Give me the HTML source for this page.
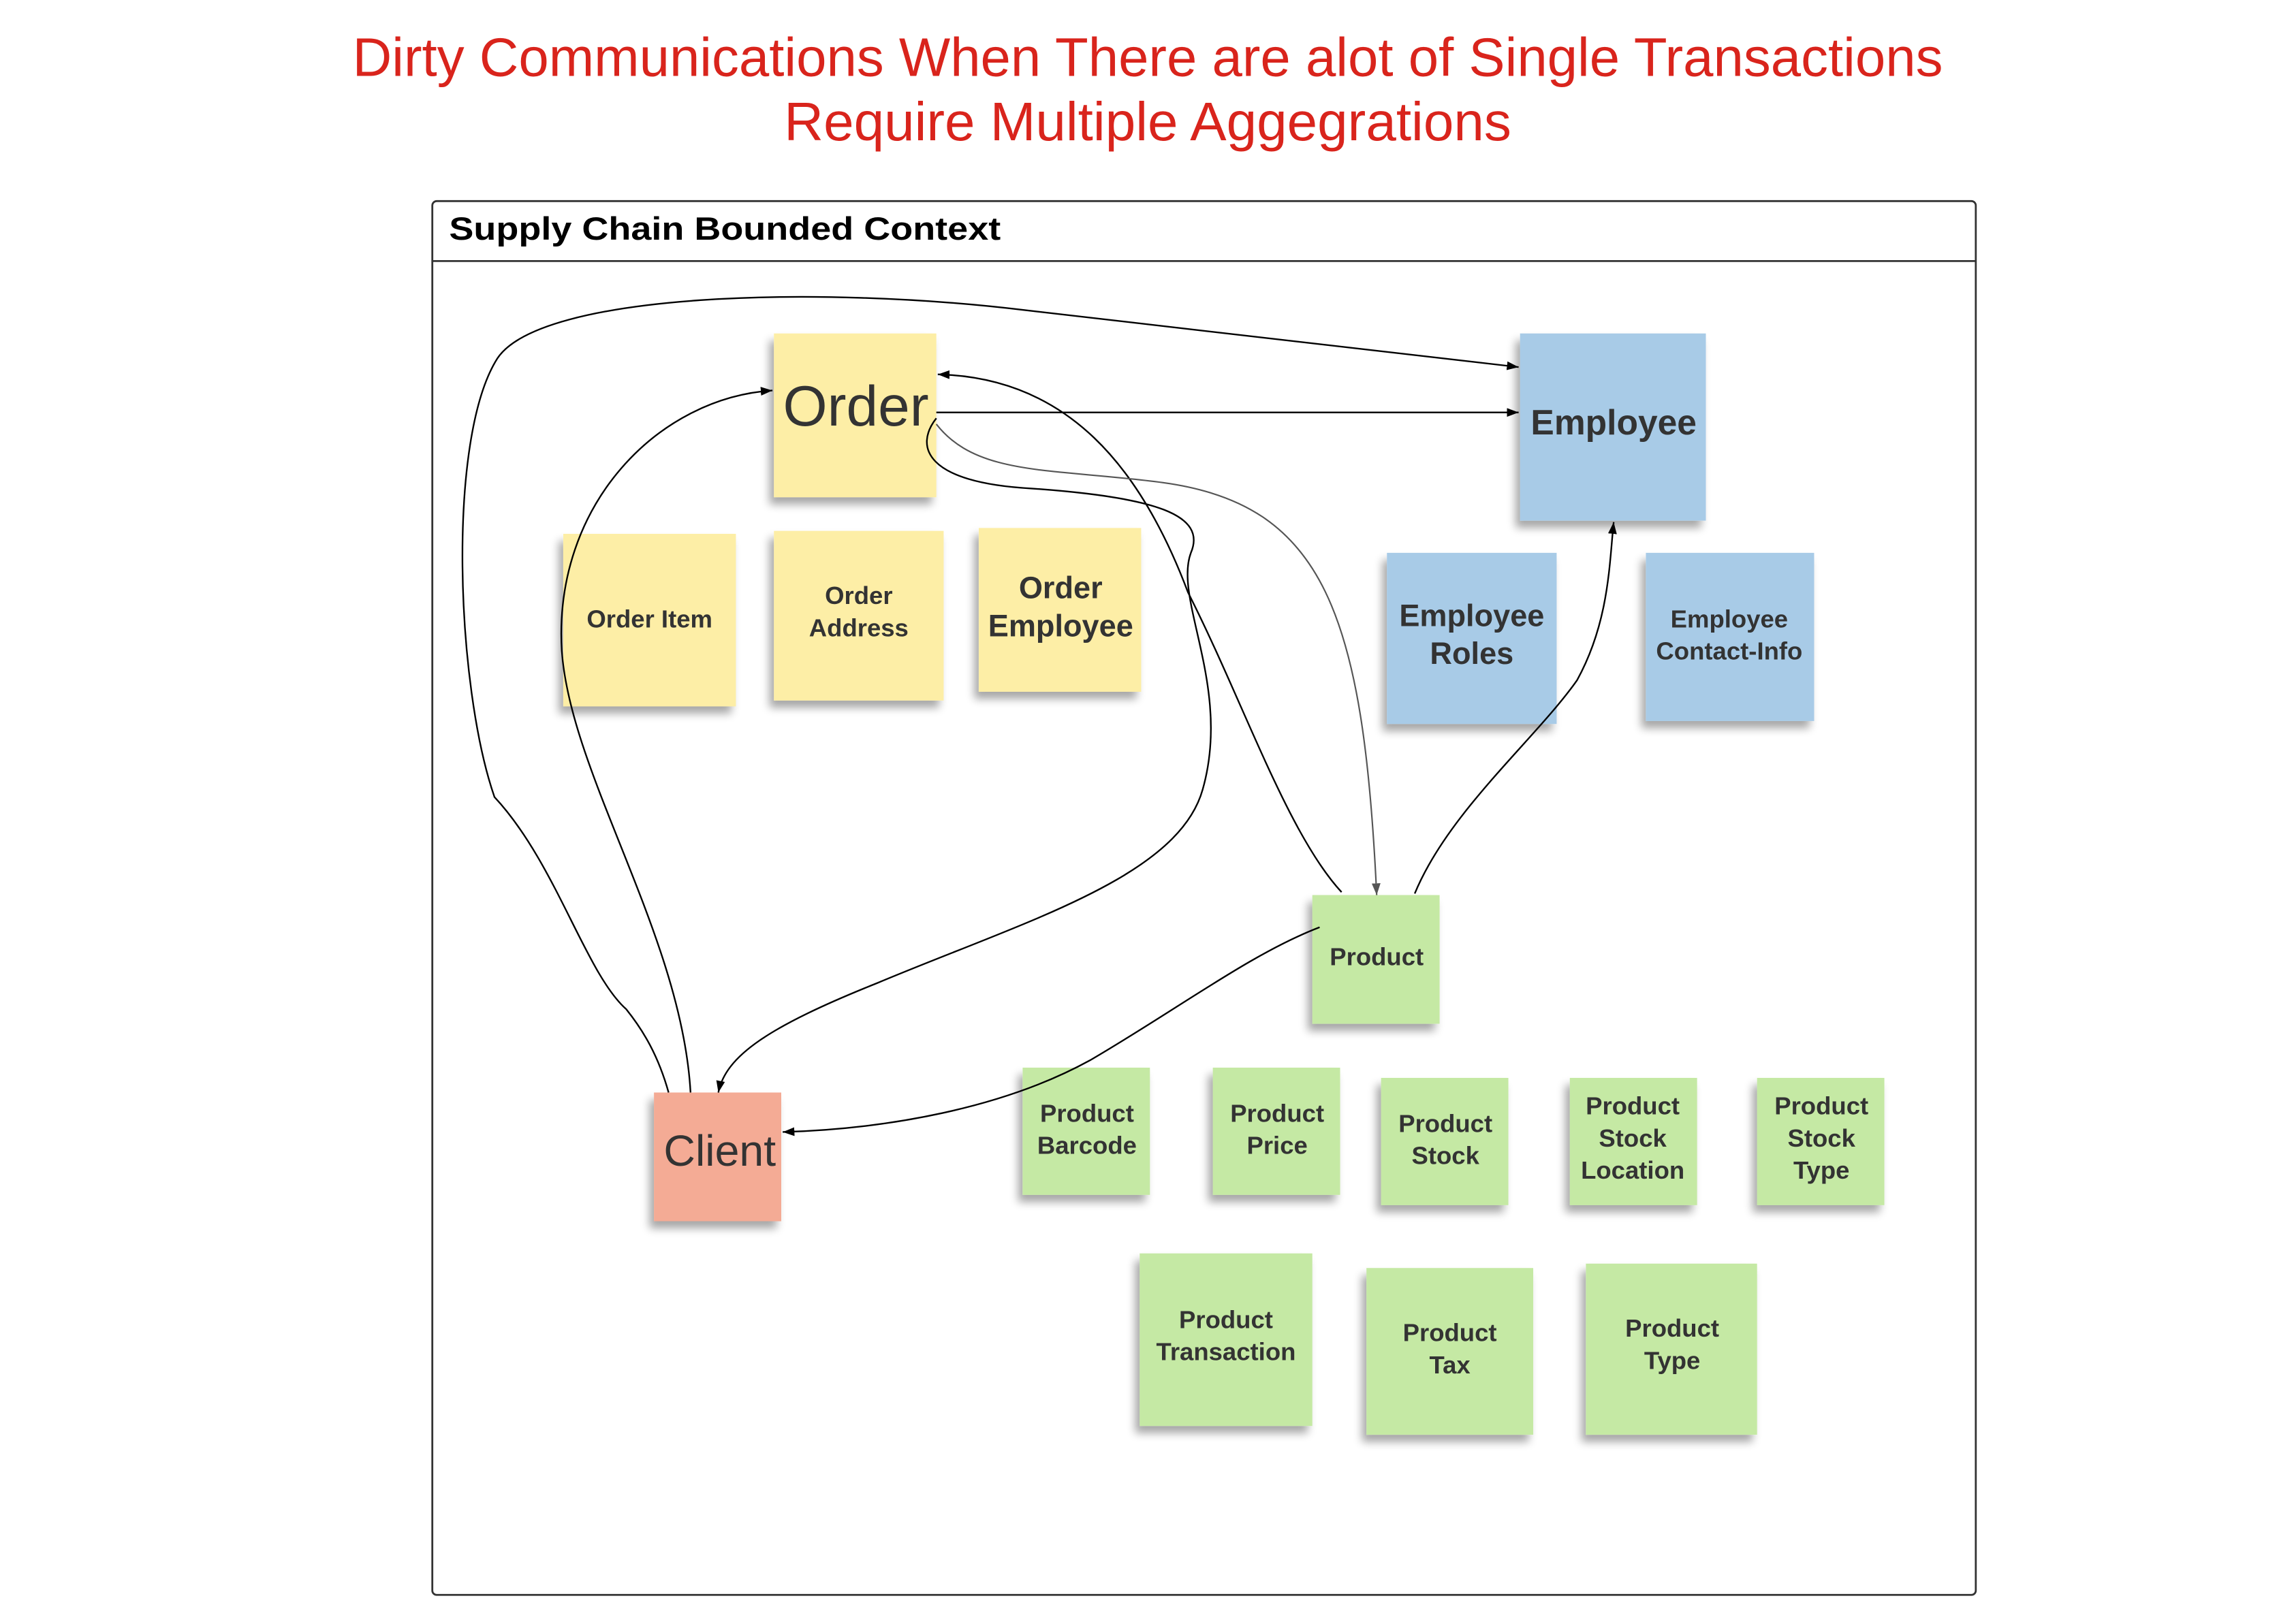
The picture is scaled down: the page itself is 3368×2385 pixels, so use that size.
<!DOCTYPE html>
<html><head><meta charset="utf-8"><style>
html,body{margin:0;padding:0;background:#fff;}
svg{display:block;}
text{font-family:"Liberation Sans",Arial,sans-serif;}
.n{font-weight:bold;fill:#333;text-anchor:middle;}
</style></head><body>
<svg width="3368" height="2385" viewBox="0 0 1568 1110.4" preserveAspectRatio="none" xmlns="http://www.w3.org/2000/svg">
<defs>
<marker id="a" markerWidth="8" markerHeight="6" refX="8" refY="3" orient="auto" markerUnits="userSpaceOnUse"><path d="M0,0 L8,3 L0,6 z" fill="#000"/></marker>
<marker id="g" markerWidth="8" markerHeight="6" refX="8" refY="3" orient="auto" markerUnits="userSpaceOnUse"><path d="M0,0 L8,3 L0,6 z" fill="#555"/></marker>
<filter id="s" x="-20%" y="-20%" width="140%" height="150%"><feGaussianBlur in="SourceAlpha" stdDeviation="3"/><feOffset dx="-3" dy="5"/><feComponentTransfer><feFuncA type="linear" slope="0.35"/></feComponentTransfer><feMerge><feMergeNode/><feMergeNode in="SourceGraphic"/></feMerge></filter>
</defs>
<text x="241" y="52" font-size="37" fill="#d9241c" textLength="1087" lengthAdjust="spacingAndGlyphs">Dirty Communications When There are alot of Single Transactions</text>
<text x="536" y="96" font-size="37" fill="#d9241c" textLength="497" lengthAdjust="spacingAndGlyphs">Require Multiple Aggegrations</text>

<rect x="295.5" y="137.5" width="1055" height="953" rx="3" fill="#fff" stroke="#333" stroke-width="1.3"/>
<line x1="295.5" y1="178.5" x2="1350.5" y2="178.5" stroke="#333" stroke-width="1.3"/>
<text x="307" y="164" font-size="22" font-weight="bold" fill="#000" textLength="377" lengthAdjust="spacingAndGlyphs">Supply Chain Bounded  Context</text>

<g filter="url(#s)">
<rect x="529" y="228" width="111" height="112" fill="#fdeea6"/>
<rect x="385" y="365" width="118" height="118" fill="#fdeea6"/>
<rect x="529" y="363" width="116" height="116" fill="#fdeea6"/>
<rect x="669" y="361" width="111" height="112" fill="#fdeea6"/>
<rect x="1039" y="228" width="127" height="128" fill="#a8cbe7"/>
<rect x="948" y="378" width="116" height="117" fill="#a8cbe7"/>
<rect x="1125" y="378" width="115" height="115" fill="#a8cbe7"/>
<rect x="897" y="612" width="87" height="88" fill="#c5e9a4"/>
<rect x="447" y="747" width="87" height="88" fill="#f4ab95"/>
<rect x="699" y="730" width="87" height="87" fill="#c5e9a4"/>
<rect x="829" y="730" width="87" height="87" fill="#c5e9a4"/>
<rect x="944" y="737" width="87" height="87" fill="#c5e9a4"/>
<rect x="1073" y="737" width="87" height="87" fill="#c5e9a4"/>
<rect x="1201" y="737" width="87" height="87" fill="#c5e9a4"/>
<rect x="779" y="857" width="118" height="118" fill="#c5e9a4"/>
<rect x="934" y="867" width="114" height="114" fill="#c5e9a4"/>
<rect x="1084" y="864" width="117" height="117" fill="#c5e9a4"/>
</g>

<g fill="none" stroke="#000" stroke-width="1.1">
<path d="M457,747 C450,722 440,705 428,690 C400,665 380,590 338,545 C312,470 305,300 340,245 C370,200 560,195 700,212 L1038,251" marker-end="url(#a)"/>
<path d="M472,747 C466,640 390,530 384,445 C378,345 450,272 528,267" marker-end="url(#a)"/>
<path d="M640,282 L1038,282" marker-end="url(#a)"/>
<path d="M640,286 C625,305 632,330 705,334 C790,340 825,352 814,378 C802,410 842,470 822,540 C805,600 700,630 600,672 C525,702 496,722 491,747" marker-end="url(#a)"/>
<path d="M917,610 C880,570 850,480 812,405 C780,320 730,258 641,256" marker-end="url(#a)"/>
<path d="M967,611 C990,555 1050,505 1078,465 C1100,425 1100,385 1103,357" marker-end="url(#a)"/>
<path d="M902,634 C855,652 805,690 745,725 C685,758 605,772 535,774" marker-end="url(#a)"/>
</g>
<path d="M640,290 C668,326 720,320 795,330 C905,345 932,420 941,612" fill="none" stroke="#555" stroke-width="1" marker-end="url(#g)"/>

<text x="585" y="291" font-size="39" fill="#333" text-anchor="middle">Order</text>
<text class="n" x="444" y="429" font-size="17">Order Item</text>
<text class="n" x="587" y="413" font-size="17">Order</text>
<text class="n" x="587" y="435" font-size="17">Address</text>
<text class="n" x="725" y="409" font-size="21">Order</text>
<text class="n" x="725" y="435" font-size="21">Employee</text>
<text class="n" x="1103" y="297" font-size="24">Employee</text>
<text class="n" x="1006" y="428" font-size="21">Employee</text>
<text class="n" x="1006" y="454" font-size="21">Roles</text>
<text class="n" x="1182" y="429" font-size="17">Employee</text>
<text class="n" x="1182" y="451" font-size="17">Contact-Info</text>
<text class="n" x="941" y="660" font-size="17">Product</text>
<text x="492" y="797" font-size="30" fill="#333" text-anchor="middle">Client</text>
<text class="n" x="743" y="767" font-size="17">Product</text>
<text class="n" x="743" y="789" font-size="17">Barcode</text>
<text class="n" x="873" y="767" font-size="17">Product</text>
<text class="n" x="873" y="789" font-size="17">Price</text>
<text class="n" x="988" y="774" font-size="17">Product</text>
<text class="n" x="988" y="796" font-size="17">Stock</text>
<text class="n" x="1116" y="762" font-size="17">Product</text>
<text class="n" x="1116" y="784" font-size="17">Stock</text>
<text class="n" x="1116" y="806" font-size="17">Location</text>
<text class="n" x="1245" y="762" font-size="17">Product</text>
<text class="n" x="1245" y="784" font-size="17">Stock</text>
<text class="n" x="1245" y="806" font-size="17">Type</text>
<text class="n" x="838" y="908" font-size="17">Product</text>
<text class="n" x="838" y="930" font-size="17">Transaction</text>
<text class="n" x="991" y="917" font-size="17">Product</text>
<text class="n" x="991" y="939" font-size="17">Tax</text>
<text class="n" x="1143" y="914" font-size="17">Product</text>
<text class="n" x="1143" y="936" font-size="17">Type</text>
</svg>
</body></html>
